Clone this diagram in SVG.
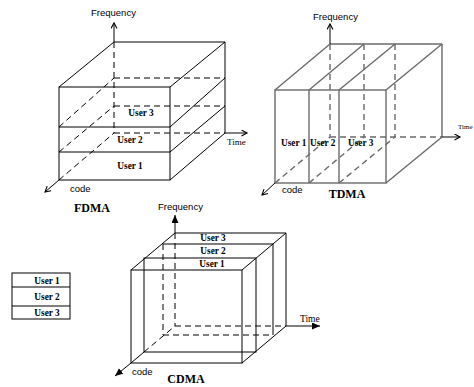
<svg xmlns="http://www.w3.org/2000/svg" width="474" height="387" viewBox="0 0 474 387">
<style>
.s{fill:none;stroke:#000;stroke-width:1}
.d{fill:none;stroke:#000;stroke-width:1;stroke-dasharray:6 4}
.gs{fill:none;stroke:#6a6a6a;stroke-width:1.4}
.gd{fill:none;stroke:#6a6a6a;stroke-width:1.4;stroke-dasharray:6 4}
.ax{font-family:"Liberation Sans",Arial,sans-serif;font-size:9.5px;fill:#000}
.tm{font-family:"Liberation Serif","Times New Roman",serif;fill:#000}
.u{font-family:"Liberation Serif","Times New Roman",serif;font-weight:bold;font-size:9.3px;fill:#000}
.cap{font-family:"Liberation Serif","Times New Roman",serif;font-weight:bold;font-size:12px;fill:#000;text-anchor:middle}
</style>
<defs>
<marker id="chev" markerWidth="8" markerHeight="8" refX="6" refY="3.5" orient="auto" markerUnits="userSpaceOnUse">
<path d="M0.5,0.5 L6,3.5 L0.5,6.5" fill="none" stroke="#000" stroke-width="1.1"/>
</marker>
<marker id="tri" markerWidth="9" markerHeight="8" refX="8" refY="3.5" orient="auto" markerUnits="userSpaceOnUse">
<path d="M0,0 L8,3.5 L0,7 z" fill="#000"/>
</marker>
</defs>

<g id="fdma">
<g id="fdma-lines">
<rect class="s" x="59" y="87" width="111" height="93"/>
<line class="s" x1="59" y1="127" x2="170" y2="127"/>
<line class="s" x1="59" y1="152" x2="170" y2="152"/>
<line class="s" x1="114" y1="42" x2="225" y2="42"/>
<line class="s" x1="59" y1="87" x2="114" y2="42"/>
<line class="s" x1="170" y1="87" x2="225" y2="42"/>
<line class="s" x1="225" y1="42" x2="225" y2="133"/>
<line class="s" x1="170" y1="127" x2="225" y2="78"/>
<line class="s" x1="170" y1="152" x2="225" y2="106"/>
<line class="s" x1="170" y1="180" x2="225" y2="133"/>
<line class="d" x1="114" y1="42" x2="114" y2="133"/>
<line class="d" x1="114" y1="78" x2="225" y2="78"/>
<line class="d" x1="114" y1="106" x2="225" y2="106"/>
<line class="d" x1="114" y1="133" x2="225" y2="133"/>
<line class="d" x1="59" y1="127" x2="114" y2="78"/>
<line class="d" x1="59" y1="152" x2="114" y2="106"/>
<line class="d" x1="59" y1="180" x2="114" y2="133"/>
<line class="s" x1="114" y1="42" x2="114" y2="23" marker-end="url(#chev)"/>
<line class="s" x1="225" y1="133" x2="247" y2="133" marker-end="url(#chev)"/>
<line class="s" x1="59" y1="180" x2="45" y2="192" marker-end="url(#chev)"/>
</g>
<text class="ax" x="91" y="16">Frequency</text>
<text class="tm" x="227" y="145" font-size="9px">Time</text>
<text class="ax" x="70" y="192">code</text>
<text class="u" x="141" y="116" text-anchor="middle">User 3</text>
<text class="u" x="130" y="143" text-anchor="middle">User 2</text>
<text class="u" x="130" y="169" text-anchor="middle">User 1</text>
<text class="cap" x="92" y="212">FDMA</text>
</g>

<g id="tdma">
<g id="tdma-lines">
<rect class="gs" x="275" y="90" width="111" height="93"/>
<line class="gs" x1="309" y1="90" x2="309" y2="183"/>
<line class="gs" x1="339" y1="90" x2="339" y2="183"/>
<line class="gs" x1="330" y1="44" x2="442" y2="44"/>
<line class="gs" x1="275" y1="90" x2="330" y2="44"/>
<line class="gs" x1="309" y1="90" x2="364" y2="44"/>
<line class="gs" x1="339" y1="90" x2="395" y2="44"/>
<line class="gs" x1="386" y1="90" x2="442" y2="44"/>
<line class="gs" x1="442" y1="44" x2="442" y2="137"/>
<line class="gs" x1="386" y1="183" x2="442" y2="137"/>
<line class="gd" x1="330" y1="44" x2="330" y2="137"/>
<line class="gd" x1="364" y1="44" x2="364" y2="137"/>
<line class="gd" x1="395" y1="44" x2="395" y2="137"/>
<line class="gd" x1="330" y1="137" x2="442" y2="137"/>
<line class="gd" x1="275" y1="183" x2="330" y2="137"/>
<line class="gd" x1="309" y1="183" x2="364" y2="137"/>
<line class="gd" x1="339" y1="183" x2="395" y2="137"/>
<line class="s" x1="330" y1="44" x2="330" y2="24" marker-end="url(#chev)"/>
<line class="s" x1="442" y1="137" x2="460" y2="137" marker-end="url(#chev)"/>
<line class="s" x1="275" y1="183" x2="262" y2="195" marker-end="url(#chev)"/>
</g>
<text class="ax" x="313" y="20">Frequency</text>
<text class="tm" x="458" y="129" font-size="7px">Time</text>
<text class="ax" x="282" y="193">code</text>
<text class="u" x="281" y="146">User 1</text>
<text class="u" x="310" y="146">User 2</text>
<text class="u" x="348" y="146">User 3</text>
<text class="cap" x="347" y="198">TDMA</text>
</g>

<g id="cdma">
<g id="cdma-lines">
<rect class="s" x="131" y="270" width="111" height="93"/>
<rect class="s" x="144" y="258" width="112" height="94"/>
<line class="s" x1="163" y1="244" x2="273" y2="244"/>
<line class="s" x1="273" y1="244" x2="273" y2="335"/>
<line class="d" x1="163" y1="244" x2="163" y2="335"/>
<line class="d" x1="163" y1="335" x2="273" y2="335"/>
<line class="s" x1="175" y1="233" x2="286" y2="233"/>
<line class="s" x1="286" y1="233" x2="286" y2="326"/>
<line class="d" x1="175" y1="233" x2="175" y2="326"/>
<line class="d" x1="175" y1="326" x2="286" y2="326"/>
<line class="s" x1="131" y1="270" x2="175" y2="233"/>
<line class="s" x1="242" y1="270" x2="286" y2="233"/>
<line class="s" x1="242" y1="363" x2="286" y2="326"/>
<line class="s" x1="131" y1="363" x2="144" y2="352"/>
<line class="d" x1="144" y1="352" x2="175" y2="326"/>
<line class="s" x1="175" y1="233" x2="175" y2="215" marker-end="url(#tri)"/>
<line class="s" x1="286" y1="326" x2="320" y2="326" marker-end="url(#tri)"/>
<line class="s" x1="131" y1="363" x2="115" y2="376" marker-end="url(#tri)"/>
</g>
<text class="ax" x="158" y="210">Frequency</text>
<text class="tm" x="300" y="322" font-size="9.5px">Time</text>
<text class="ax" x="132" y="375">code</text>
<text class="u" x="213" y="241" text-anchor="middle">User 3</text>
<text class="u" x="213" y="254" text-anchor="middle">User 2</text>
<text class="u" x="212" y="267" text-anchor="middle">User 1</text>
<text class="cap" x="186" y="383" font-size="11.5px">CDMA</text>
</g>

<g id="legend">
<rect class="s" x="12" y="273" width="58" height="46"/>
<line class="s" x1="12" y1="287" x2="70" y2="287"/>
<line class="s" x1="12" y1="306" x2="70" y2="306"/>
<text class="u" x="47" y="284" text-anchor="middle">User 1</text>
<text class="u" x="47" y="300" text-anchor="middle">User 2</text>
<text class="u" x="47" y="316" text-anchor="middle">User 3</text>
</g>
</svg>
